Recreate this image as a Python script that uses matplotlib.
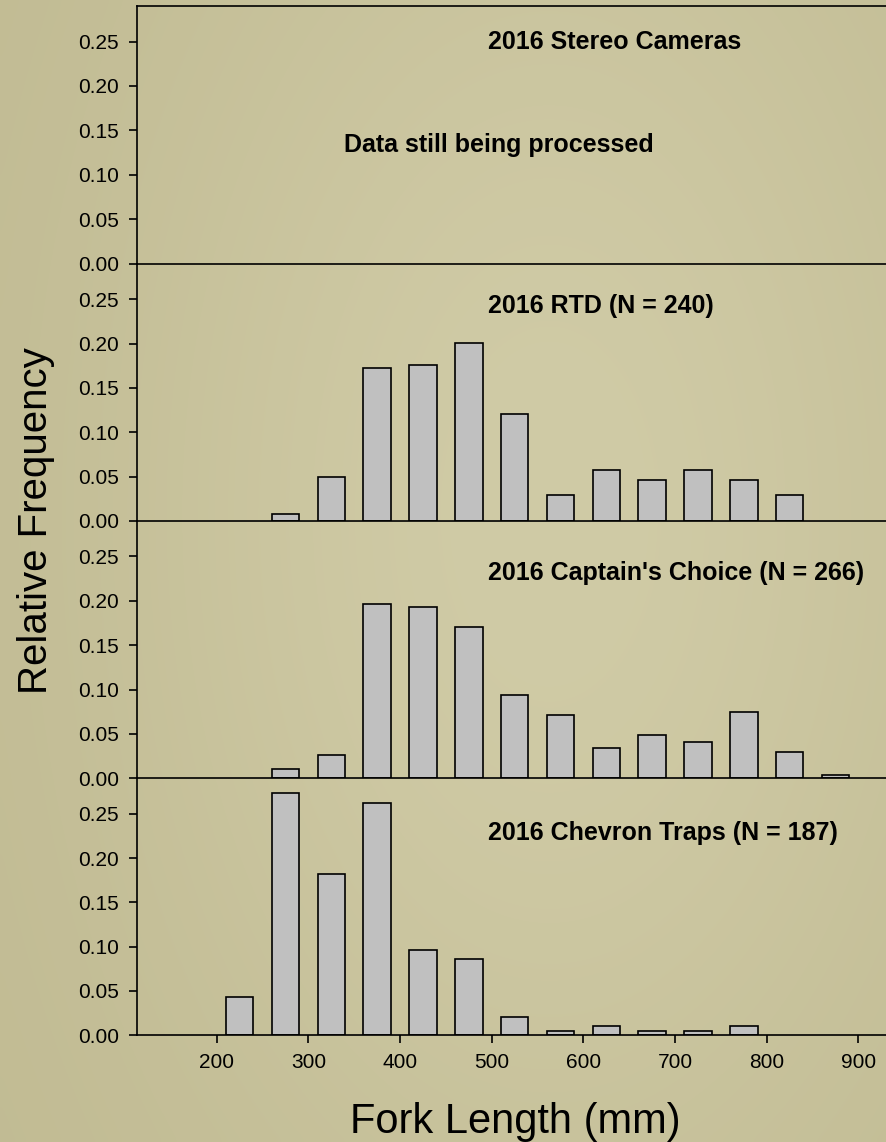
import numpy as np
import matplotlib
matplotlib.use("Agg")
import matplotlib.pyplot as plt

plt.rcParams['font.family'] = ['Liberation Sans', 'DejaVu Sans']

# Fork-length bin centres (mm) and relative frequencies for each gear
rtd_bins = [275, 325, 375, 425, 475, 525, 575, 625, 675, 725, 775, 825]
rtd_freq = [0.008, 0.050, 0.172, 0.176, 0.201, 0.121, 0.029, 0.058, 0.046, 0.058, 0.046, 0.029]

captain_bins = [275, 325, 375, 425, 475, 525, 575, 625, 675, 725, 775, 825, 875]
captain_freq = [0.011, 0.026, 0.196, 0.193, 0.170, 0.094, 0.071, 0.034, 0.049, 0.041, 0.075, 0.030, 0.004]

chevron_bins = [225, 275, 325, 375, 425, 475, 525, 575, 625, 675, 725, 775]
chevron_freq = [0.043, 0.273, 0.182, 0.262, 0.096, 0.086, 0.021, 0.005, 0.011, 0.005, 0.005, 0.011]

panel_titles = ["2016 Stereo Cameras",
                "2016 RTD (N = 240)",
                "2016 Captain's Choice (N = 266)",
                "2016 Chevron Traps (N = 187)"]
title_y = [0.2414, 0.2347, 0.224, 0.220]
stereo_note = "Data still being processed"

y_ticks = [0.00, 0.05, 0.10, 0.15, 0.20, 0.25]
y_tick_labels = ["0.00", "0.05", "0.10", "0.15", "0.20", "0.25"]
x_ticks = [200, 300, 400, 500, 600, 700, 800, 900]
x_tick_labels = ["200", "300", "400", "500", "600", "700", "800", "900"]

series = [(None, None),
          (rtd_bins, rtd_freq),
          (captain_bins, captain_freq),
          (chevron_bins, chevron_freq)]

W, H = 887, 1142
fig = plt.figure(figsize=(W / 100, H / 100), dpi=100)

# parchment-like backdrop: smooth tonal variation, a little darker toward the edges
bg = fig.add_axes([0, 0, 1, 1], zorder=-10)
gy, gx = np.mgrid[0:1:200j, 0:1:160j]
shade = np.exp(-((gx - 0.62) ** 2 / 0.25 + (gy - 0.45) ** 2 / 0.45))
dark = np.array([192, 186, 146]) / 255.0
light = np.array([208, 203, 166]) / 255.0
img = dark[None, None, :] + (light - dark)[None, None, :] * np.clip(shade, 0, 1)[..., None]
bg.imshow(img, extent=[0, 1, 0, 1], aspect='auto', interpolation='bicubic')
bg.axis('off')

left = 136.7 / W
width = 1.0 - left
panel_px = [(6.0, 263.7), (263.7, 521.0), (521.0, 778.3), (778.3, 1035.3)]

TICK_FS = 15
TITLE_FS = 18
LW = 1.2

axes = []
for i, (top_px, bot_px) in enumerate(panel_px):
    ax = fig.add_axes([left, 1 - bot_px / H, width, (bot_px - top_px) / H])
    ax.set_facecolor('none')
    ax.set_xlim(112.7, 931.2)
    ax.set_ylim(0, 0.29)
    bins, freq = series[i]
    if bins is not None:
        ax.bar(bins, freq, width=30, color='#C0C0C0', edgecolor='black',
               linewidth=LW, zorder=2)
    ax.spines['right'].set_visible(False)
    ax.spines['top'].set_visible(i == 0)
    for s in ('left', 'bottom', 'top'):
        ax.spines[s].set_linewidth(LW)
        ax.spines[s].set_zorder(3)
    ax.set_yticks(y_ticks)
    ax.set_yticklabels(y_tick_labels)
    ax.tick_params(axis='y', direction='out', length=6, width=LW,
                   labelsize=TICK_FS, pad=7, colors='black')
    if i == len(panel_px) - 1:
        ax.set_xticks(x_ticks)
        ax.set_xticklabels(x_tick_labels)
        ax.tick_params(axis='x', direction='out', length=5.5, width=LW,
                       labelsize=TICK_FS, pad=7)
    else:
        ax.set_xticks([])
    ax.text(496, title_y[i], panel_titles[i], fontsize=TITLE_FS,
            fontweight='bold', ha='left', va='baseline', zorder=4)
    axes.append(ax)

axes[0].text(339, 0.126, stereo_note, fontsize=TITLE_FS, fontweight='bold',
             ha='left', va='baseline')

fig.text(46.7 / W, 1 - 520.7 / H, "Relative Frequency", fontsize=29,
         rotation=90, rotation_mode='anchor', ha='center', va='baseline')
fig.text(515.5 / W, 1 - 1132.7 / H, "Fork Length (mm)", fontsize=30,
         ha='center', va='baseline')

fig.savefig("out.png", dpi=100)
